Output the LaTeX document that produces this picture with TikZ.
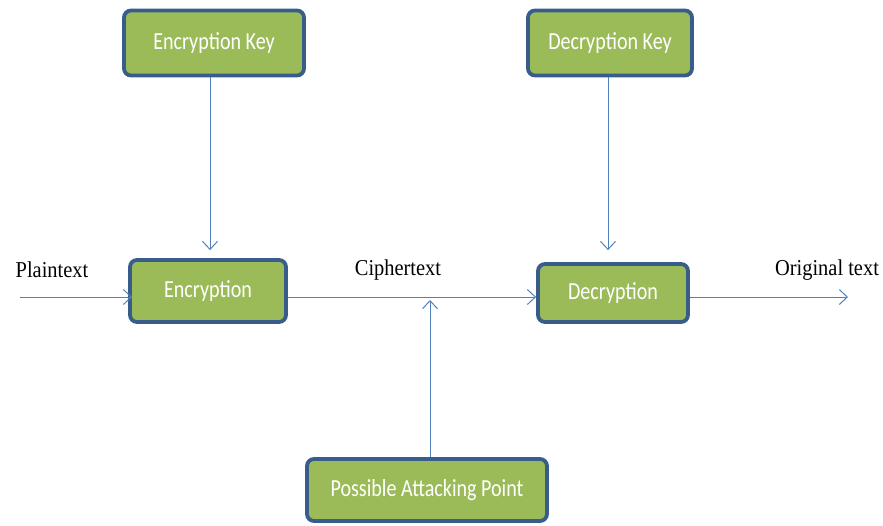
\documentclass[tikz,border=0pt]{standalone}
\usepackage{fontspec}
\setmainfont{Liberation Serif}[FakeStretch=0.9]
\newfontfamily\boxfont{Carlito}[FakeStretch=0.82]
\usepackage{xcolor}
\usepackage{tikz}
\usetikzlibrary{arrows.meta,positioning}

\definecolor{boxgreen}{HTML}{9BBB59}
\definecolor{boxedge}{HTML}{385D8A}
\definecolor{flowblue}{HTML}{4F81BD}

\begin{document}
\begin{tikzpicture}[
x=1pt, y=-1pt,
block/.style={draw=boxedge, line width=3.8pt, rounded corners=7pt, fill=boxgreen, text=white, font=\boxfont\fontsize{24.5}{28}\selectfont, inner sep=0pt},
flow/.style={draw=flowblue, line width=1pt, -{Straight Barb[length=8pt,width=15pt]}},
tag/.style={font=\fontsize{22.7}{26}\selectfont, inner sep=0pt}
]
\useasboundingbox (0,0) rectangle (883,525);
% key boxes
\node[block, minimum width=180pt, minimum height=65pt] (ekey) at (214,43) {Encryption Key};
\node[block, minimum width=164pt, minimum height=65pt] (dkey) at (610,43) {Decryption Key};
% main flow
\node[block, minimum width=156pt, minimum height=62pt] (enc) at (208,291) {Encryption};
\node[block, minimum width=150pt, minimum height=58pt] (dec) at (613,293) {Decryption};
\node[block, minimum width=240pt, minimum height=62pt] (atk) at (427,490) {Possible Attacking Point};
% free ends
\coordinate (pin) at (20,297);
\coordinate (pout) at (848,297);
\coordinate (tap) at (430,300);
% labels
\node[tag] (plain) at (52,270) {Plaintext};
\node[tag] (ciph) at (398,270) {Ciphertext};
\node[tag] (orig) at (827,270) {Original text};
% arrows
\draw[flow, shorten >=8pt] (ekey.south -| 210,0) -- (enc.north -| 210,0);
\draw[flow, shorten >=12pt] (dkey.south -| 608,0) -- (dec.north -| 608,0);
\draw[flow, shorten >=-4pt] (pin) -- (pin -| enc.west);
\draw[flow] (pin -| enc.east) -- (pin -| dec.west);
\draw[flow] (pin -| dec.east) -- (pout);
\draw[flow] (atk.north -| tap) -- (tap);
\end{tikzpicture}
\end{document}
